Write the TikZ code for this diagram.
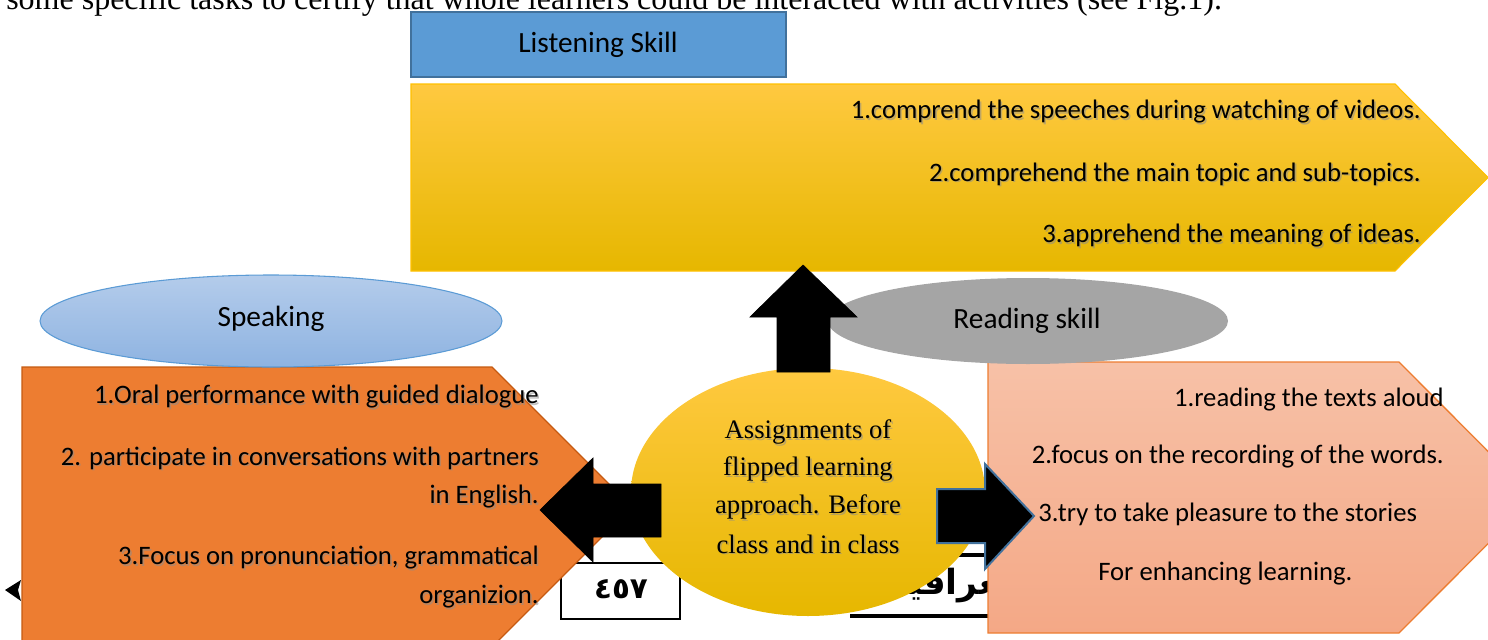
\documentclass[tikz,border=0pt]{standalone}
\usepackage{fontspec}
\setmainfont{Carlito}
\newfontfamily\seriffont{Liberation Serif}
\newfontfamily\arabicfont[Script=Arabic]{DejaVu Sans}
\TeXXeTstate=1
\usepackage{tikz}

\definecolor{skillblue}{RGB}{91,155,213}
\definecolor{skillblueedge}{RGB}{65,113,156}
\definecolor{goldtop}{RGB}{255,201,64}
\definecolor{goldmid}{RGB}{255,192,0}
\definecolor{goldbot}{RGB}{230,183,0}
\definecolor{speaktop}{RGB}{180,204,235}
\definecolor{speakbot}{RGB}{142,179,225}
\definecolor{orangefill}{RGB}{237,125,49}
\definecolor{orangeedge}{RGB}{197,90,17}
\definecolor{salmontop}{RGB}{247,193,167}
\definecolor{salmonbot}{RGB}{244,168,134}
\definecolor{readgray}{RGB}{165,165,165}

\tikzset{
  labeltext/.style={font=\fontsize{22}{26}\selectfont, inner sep=0.75pt},
  bodytext/.style={font=\fontsize{20}{24}\selectfont, inner sep=0.75pt},
  centertext/.style={font=\seriffont\fontsize{20}{24}\selectfont, inner sep=0.75pt},
  goldshade/.style={top color=goldtop, middle color=goldmid, bottom color=goldbot},
  blockarrow/.style={fill=black, draw=black, line width=0.5},
}

% text with a soft drop shadow underneath
\newcommand{\shadowlabel}[4]{%
  \node [#2, text=black!45, opacity=0.55] (#1-sh) at ([shift={(1.6,1.6)}]#3) {#4};
  \node [#2] (#1) at (#3) {#4};
}

\begin{document}
\begin{tikzpicture}[x=0.75pt,y=0.75pt,yscale=-1,xscale=1]
        \useasboundingbox (0,0) rectangle (1488,639);
        \clip (0,0) rectangle (1488,639);

        % Text Node
        \node [anchor=base west, font=\seriffont\fontsize{24}{28}\selectfont, inner sep=0pt] (runningtext) at (6,9) {some specific tasks to certify that whole learners could be interacted with activities (see Fig.1).};

        %Shape: Rectangle (page number box)
        \draw [line width=1.2] (561,563) rectangle (680,619);
        % Text Node
        \node [font=\arabicfont\bfseries\fontsize{22}{26}\selectfont] (pageno) at (621,589) {٤٥٧};
        %Straight Lines
        \draw [line width=3] (925,555) -- (990,555);
        \draw [line width=3.6] (850,616) -- (990,616);
        % Text Node
        \node [font=\arabicfont\bfseries\fontsize{26}{30}\selectfont] (journal) at (956,586) {\beginR العراقية\endR};
        %Shape: Polygon
        \fill (5,590) -- (21,580) -- (18,590) -- (21,601) -- cycle;

        %Shape: Rectangle
        \draw [fill=skillblue, draw=skillblueedge, line width=1.5] (411,12) rectangle (786,77);
        % Text Node
        \node [labeltext] (listening) at (598,45) {Listening Skill};

        %Shape: Pentagon
        \shade [goldshade] (411,84) -- (1395,84) -- (1488,177.5) -- (1395,271) -- (411,271) -- cycle;
        \draw [draw=goldmid, line width=0.8] (411,84) -- (1395,84) -- (1488,177.5) -- (1395,271) -- (411,271) -- cycle;
        % Text Node
        \shadowlabel{listen1}{bodytext, anchor=east}{1422,112}{1.comprend the speeches during watching of videos.}
        \shadowlabel{listen2}{bodytext, anchor=east}{1422,174}{2.comprehend the main topic and sub-topics.}
        \shadowlabel{listen3}{bodytext, anchor=east}{1422,236}{3.apprehend the meaning of ideas.}

        %Shape: Pentagon
        \draw [fill=orangefill, draw=orangeedge, line width=1] (22,367) -- (492,367) -- (632,507) -- (492,647) -- (22,647) -- cycle;
        % Text Node
        \shadowlabel{speak1}{bodytext, anchor=east}{540,397}{1.Oral performance with guided dialogue}
        \shadowlabel{speak2}{bodytext, anchor=east}{540,458}{2. participate in conversations with partners}
        \shadowlabel{speak2b}{bodytext, anchor=east}{540,497}{in English.}
        \shadowlabel{speak3}{bodytext, anchor=east}{540,558}{3.Focus on pronunciation, grammatical}
        \shadowlabel{speak3b}{bodytext, anchor=east}{540,597}{organizion.}

        %Shape: Ellipse
        \shade [top color=speaktop, bottom color=speakbot] (271,321) ellipse (231 and 46);
        \draw [draw=skillblue, line width=0.8] (271,321) ellipse (231 and 46);
        % Text Node
        \node [labeltext] (speaking) at (271,319) {Speaking};

        %Shape: Pentagon
        \shade [top color=salmontop, bottom color=salmonbot] (988,362) -- (1399,362) -- (1534,497.5) -- (1399,633) -- (988,633) -- cycle;
        \draw [draw=orangefill, line width=1] (988,362) -- (1399,362) -- (1534,497.5) -- (1399,633) -- (988,633) -- cycle;
        % Text Node
        \node [bodytext, anchor=east] (read1) at (1445,400) {1.reading the texts aloud};
        \node [bodytext, anchor=east] (read2) at (1445,457) {2.focus on the recording of the words.};
        \node [bodytext, anchor=west] (read3) at (1037,514) {3.try to take pleasure to the stories};
        \node [bodytext, anchor=west] (read4) at (1097,574) {For enhancing learning.};

        %Shape: Ellipse
        \fill [readgray] (1028,321) ellipse (200 and 43);
        % Text Node
        \node [labeltext] (reading) at (1027,321) {Reading skill};

        %Shape: Ellipse
        \shade [goldshade] (808,492) ellipse (177 and 124);
        % Text Node
        \shadowlabel{task1}{centertext}{808,432}{Assignments of}
        \shadowlabel{task2}{centertext}{808,469}{flipped learning}
        \shadowlabel{task3}{centertext}{808,507}{approach. Before}
        \shadowlabel{task4}{centertext}{808,544}{class and in class}

        %Shape: Up Arrow
        \draw [blockarrow] (777,372) -- (777,317) -- (750,317) -- (803,265) -- (857,317) -- (830,317) -- (830,372) -- cycle;
        %Shape: Left Arrow
        \draw [blockarrow] (661,484) -- (593,484) -- (593,458) -- (540,510) -- (593,562) -- (593,537) -- (661,537) -- cycle;
        %Shape: Right Arrow
        \draw [blockarrow, draw=skillblueedge, line width=1.5] (937,489) -- (985,489) -- (985,464) -- (1034,516) -- (985,569) -- (985,543) -- (937,543) -- cycle;

\end{tikzpicture}
\end{document}
